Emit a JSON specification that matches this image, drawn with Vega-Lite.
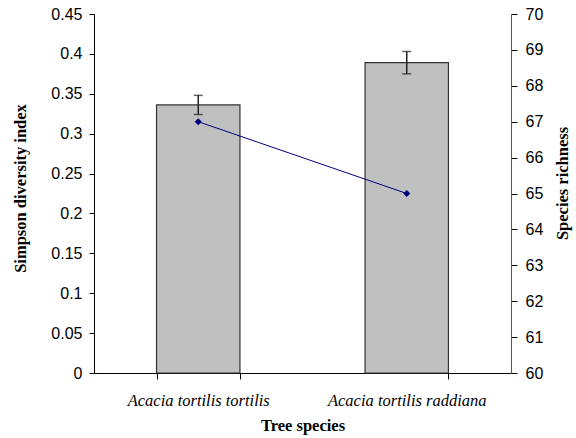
{
  "$schema": "https://vega.github.io/schema/vega-lite/v6.json",
  "width": 417,
  "height": 359,
  "autosize": {"type": "none"},
  "padding": {"left": 94, "top": 14, "right": 65, "bottom": 65},
  "background": "white",
  "config": {
    "view": {"stroke": null},
    "axisY": {
      "grid": false,
      "labelFont": "Liberation Sans",
      "labelFontSize": 16,
      "labelColor": "black",
      "labelOverlap": false,
      "titleFont": "Liberation Serif",
      "titleFontWeight": "bold",
      "titleFontSize": 16.5,
      "titleColor": "black",
      "tickColor": "black"
    }
  },
  "data": {
    "values": [
      {"species": "Acacia tortilis tortilis", "simpson": 0.336, "lo": 0.324, "hi": 0.348, "richness": 67},
      {"species": "Acacia tortilis raddiana", "simpson": 0.389, "lo": 0.375, "hi": 0.403, "richness": 65}
    ]
  },
  "encoding": {
    "x": {
      "field": "species",
      "type": "nominal",
      "sort": null,
      "scale": {"paddingInner": 0.6, "paddingOuter": 0.3},
      "axis": {
        "title": "Tree species",
        "labelAngle": 0,
        "labelFont": "Liberation Serif",
        "labelFontStyle": "italic",
        "labelFontSize": 16.5,
        "labelColor": "black",
        "labelPadding": 13,
        "titleFont": "Liberation Serif",
        "titleFontWeight": "bold",
        "titleFontSize": 16.5,
        "titleColor": "black",
        "titlePadding": 9,
        "domainColor": "black",
        "tickColor": "black",
        "tickSize": 6,
        "tickBand": "extent",
        "grid": false
      }
    }
  },
  "layer": [
    {
      "layer": [
        {
          "mark": {"type": "bar", "color": "#c0c0c0", "stroke": "#333333", "strokeWidth": 1.2},
          "encoding": {
            "y": {
              "field": "simpson",
              "type": "quantitative",
              "scale": {"domain": [0, 0.45], "nice": false},
              "axis": {"title": "Simpson diversity index", "values": [0, 0.05, 0.1, 0.15, 0.2, 0.25, 0.3, 0.35, 0.4, 0.45], "format": ".2~f", "labelFontSize": 16, "titleFontSize": 16.5, "labelPadding": 7, "titleX": -74, "titleY": 174, "titleAngle": -90, "titleAlign": "center", "titleBaseline": "middle", "domainColor": "black", "tickSize": 5}
            }
          }
        },
        {
          "mark": {"type": "rule", "color": "#222222", "strokeWidth": 1.5},
          "encoding": {
            "y": {"field": "lo", "type": "quantitative",
              "axis": {"title": "Simpson diversity index", "values": [0, 0.05, 0.1, 0.15, 0.2, 0.25, 0.3, 0.35, 0.4, 0.45], "format": ".2~f", "labelFontSize": 16, "titleFontSize": 16.5, "labelPadding": 7, "titleX": -74, "titleY": 174, "titleAngle": -90, "titleAlign": "center", "titleBaseline": "middle", "domainColor": "black", "tickSize": 5}},
            "y2": {"field": "hi"}
          }
        },
        {
          "mark": {"type": "tick", "color": "#222222", "thickness": 1.5, "size": 9},
          "encoding": {"y": {"field": "lo", "type": "quantitative",
            "axis": {"title": "Simpson diversity index", "values": [0, 0.05, 0.1, 0.15, 0.2, 0.25, 0.3, 0.35, 0.4, 0.45], "format": ".2~f", "labelFontSize": 16, "titleFontSize": 16.5, "labelPadding": 7, "titleX": -74, "titleY": 174, "titleAngle": -90, "titleAlign": "center", "titleBaseline": "middle", "domainColor": "black", "tickSize": 5}}}
        },
        {
          "mark": {"type": "tick", "color": "#222222", "thickness": 1.5, "size": 9},
          "encoding": {"y": {"field": "hi", "type": "quantitative",
            "axis": {"title": "Simpson diversity index", "values": [0, 0.05, 0.1, 0.15, 0.2, 0.25, 0.3, 0.35, 0.4, 0.45], "format": ".2~f", "labelFontSize": 16, "titleFontSize": 16.5, "labelPadding": 7, "titleX": -74, "titleY": 174, "titleAngle": -90, "titleAlign": "center", "titleBaseline": "middle", "domainColor": "black", "tickSize": 5}}}
        }
      ]
    },
    {
      "layer": [
        {
          "mark": {"type": "line", "color": "#000080", "strokeWidth": 1},
          "encoding": {
            "y": {
              "field": "richness",
              "type": "quantitative",
              "scale": {"domain": [60, 70], "nice": false, "zero": false},
              "axis": {"orient": "right", "title": "Species richness", "titleAngle": -90, "titleX": 51, "titleY": 169, "titleAlign": "center", "titleBaseline": "middle", "values": [60, 61, 62, 63, 64, 65, 66, 67, 68, 69, 70], "labelFontSize": 16, "titleFontSize": 16.5, "labelPadding": 8, "domainColor": "#555555", "tickSize": 6}
            }
          }
        },
        {
          "mark": {"type": "point", "shape": "diamond", "filled": true, "color": "#000080", "size": 50, "opacity": 1},
          "encoding": {"y": {"field": "richness", "type": "quantitative",
            "axis": {"orient": "right", "title": "Species richness", "titleAngle": -90, "titleX": 51, "titleY": 169, "titleAlign": "center", "titleBaseline": "middle", "values": [60, 61, 62, 63, 64, 65, 66, 67, 68, 69, 70], "labelFontSize": 16, "titleFontSize": 16.5, "labelPadding": 8, "domainColor": "#555555", "tickSize": 6}}}
        }
      ]
    }
  ],
  "resolve": {"scale": {"y": "independent"}}
}
